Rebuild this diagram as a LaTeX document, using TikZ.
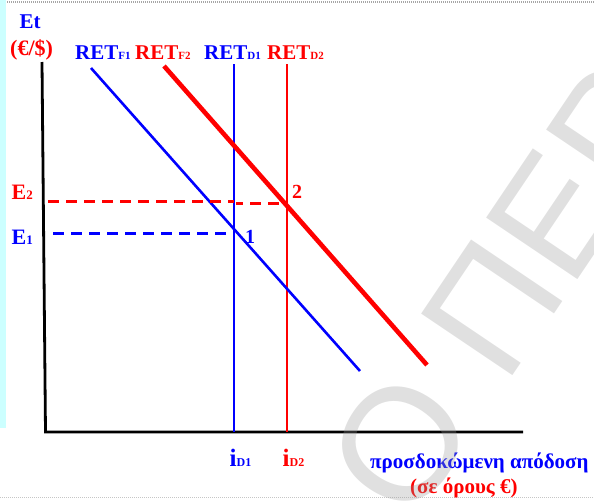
\documentclass[tikz,border=0pt]{standalone}
\usepackage{fontspec}
\setmainfont{Liberation Serif}
\newfontfamily\wmfont{Liberation Sans}
\definecolor{cyanstrip}{RGB}{204,255,255}
\definecolor{wmgray}{RGB}{152,152,152}
\definecolor{myblue}{RGB}{0,0,255}
\definecolor{myred}{RGB}{255,0,0}
\newcommand{\smallsub}[2][11]{{\fontsize{#1}{#1}\selectfont #2}}
\begin{document}
\begin{tikzpicture}[x=1pt,y=-1pt,
  lbl/.style={inner sep=0pt, anchor=base west, font=\bfseries\fontsize{21}{21}\selectfont},
  axisline/.style={line width=2.8pt, black},
  bluevert/.style={line width=2pt, myblue},
  redvert/.style={line width=2pt, myred},
  bluediag/.style={line width=2.6pt, myblue},
  reddiag/.style={line width=4.6pt, myred},
  dashline/.style={line width=3pt, dash pattern=on 11pt off 7pt}
]
\useasboundingbox (0,0) rectangle (594,501);
% slide remnants
\fill[cyanstrip] (0,0) rectangle (6,428);
\draw[gray!70, line width=1.6pt, dash pattern=on 1pt off 1pt] (7,1.8) -- (594,1.8);
\draw[gray!45, line width=1.4pt, dash pattern=on 1pt off 1pt] (0,497.5) -- (594,497.5);

% coordinates
\coordinate (ytop) at (42,62);
\coordinate (orig) at (45.5,432);
\coordinate (xend) at (523,432);
\coordinate (d1top) at (233.5,64);
\coordinate (d1bot) at (233.5,432);
\coordinate (d2top) at (287,64);
\coordinate (d2bot) at (287,432);
\coordinate (f1top) at (91,68);
\coordinate (f1bot) at (360,371);
\coordinate (f2top) at (164,66);
\coordinate (f2bot) at (427,365);
\coordinate (e2s) at (48,201.7);
\coordinate (e2m) at (233.5,201.7);
\coordinate (e2n) at (236,203.3);
\coordinate (p2) at (287,203.3);
\coordinate (e1s) at (53,233.5);
\coordinate (p1) at (233.5,233.5);

% axes
\draw[axisline] (ytop) -- (orig) -- (xend);
% curves
\draw[bluevert] (d1top) -- (d1bot);
\draw[redvert] (d2top) -- (d2bot);
\draw[bluediag] (f1top) -- (f1bot);
\draw[reddiag] (f2top) -- (f2bot);
% dashed guides
\draw[dashline, myred] (e2s) -- (e2m);
\draw[dashline, myred, dash phase=4pt] (e2n) -- (p2);
\draw[dashline, myblue] (e1s) -- (p1);

% labels
\node[lbl, text=myblue] (et) at (19.5,28.3) {Et};
\node[lbl, text=myred, font=\bfseries\fontsize{22}{22}\selectfont] (unit) at (10,55.5) {(€/\$)};
\node[lbl, text=myblue] (retf1) at (75,59.3) {RET\smallsub{F1}};
\node[lbl, text=myred] (retf2) at (135,59.3) {RET\smallsub{F2}};
\node[lbl, text=myblue] (retd1) at (204,59.3) {RET\smallsub{D1}};
\node[lbl, text=myred] (retd2) at (267,59.3) {RET\smallsub{D2}};
\node[lbl, text=myred, font=\bfseries\fontsize{22}{22}\selectfont] (e2) at (11.5,199.3) {E\smallsub[13]{2}};
\node[lbl, text=myblue, font=\bfseries\fontsize{22}{22}\selectfont] (e1) at (11.5,244) {E\smallsub[13]{1}};
\node[lbl, text=myblue, font=\bfseries\fontsize{20}{20}\selectfont] (n1) at (245,243) {1};
\node[lbl, text=myred, font=\bfseries\fontsize{20}{20}\selectfont] (n2) at (292,198) {2};
\node[lbl, text=myblue, font=\bfseries\fontsize{25}{25}\selectfont] (id1) at (229.5,466) {i\smallsub[12]{D1}};
\node[lbl, text=myred, font=\bfseries\fontsize{25}{25}\selectfont] (id2) at (282.5,466) {i\smallsub[12]{D2}};
\node[lbl, text=myblue] (xlab) at (370,468) {προσδοκώμενη απόδοση};
\node[lbl, text=myred] (xunit) at (410,493) {(σε όρους €)};

% watermark
\begin{scope}
\clip (0,0) rectangle (594,501);
\node[rotate=56, anchor=base west, inner sep=0pt, text=wmgray, opacity=0.3,
      font=\wmfont\fontsize{160}{160}\selectfont] (wm) at (411.3,526.6) {Ο ΠΕΡ};
\end{scope}
\end{tikzpicture}
\end{document}
